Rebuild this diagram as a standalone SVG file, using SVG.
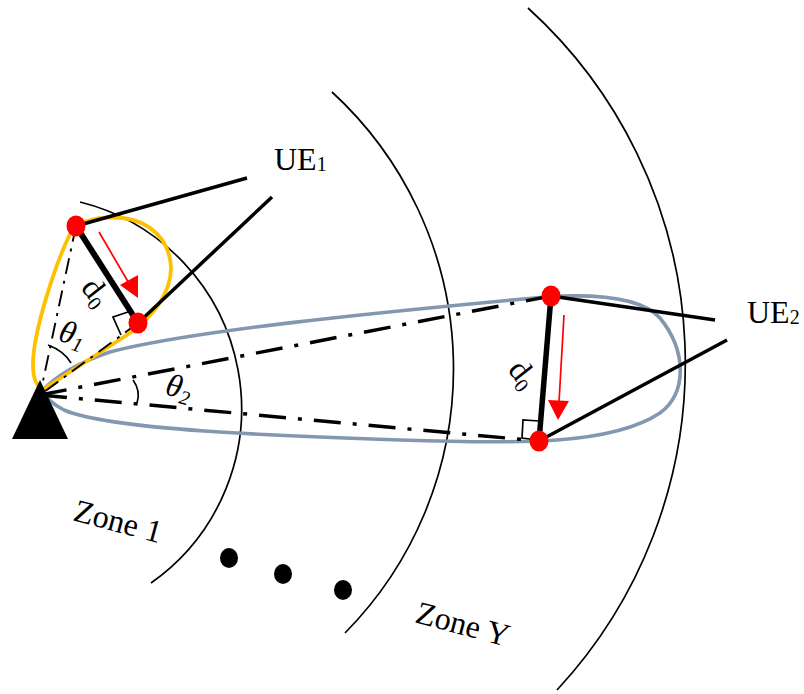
<svg xmlns="http://www.w3.org/2000/svg" width="804" height="694" viewBox="0 0 804 694">
<style>
.t{font-family:"Liberation Serif","Times New Roman",serif;fill:#000;font-size:32px}
.s{font-size:20px}
.arc{fill:none;stroke:#000;stroke-width:1.7}
.ln{fill:none;stroke:#000;stroke-width:3.5}
.dd{fill:none;stroke:#000;stroke-width:3.5;stroke-dasharray:27 12 4 12}
.dt{fill:none;stroke:#000;stroke-width:1.9;stroke-dasharray:16 7 3 7}
.thin{fill:none;stroke:#000;stroke-width:1.7}
.pt{fill:#f00}
.ra{fill:none;stroke:#f00;stroke-width:1.7}
</style>
<rect width="804" height="694" fill="#fff"/>
<g id="zones">
<path class="arc" d="M80 202A213 213 0 0 1 151 583"/>
<path class="arc" d="M332 92A376 376 0 0 1 345 633"/>
<path class="arc" d="M528 8A480 480 0 0 1 557 690"/>
</g>
<g id="beams">
<path fill="none" stroke="#8497b0" stroke-width="3.6" d="M42 391C58 374 80 362 110 352C190 331 370 313 545 297C590 294 640 296 660 318C686 350 688 392 660 413C612 445 520 444 400 440C280 436 110 430 64 410C52 404 47 398 42 391Z"/>
<path fill="none" stroke="#ffc000" stroke-width="3.8" d="M42 390L133 331C150 318 171 295 171 268C170 240 150 221 123 218C100 216 80 220 70 234C55 265 32 335 33 367C33 378 36 385 42 390Z"/>
</g>
<g id="connectors">
<path class="dt" d="M76 226L40 395"/>
<path class="dt" d="M138 323L40 395"/>
<path class="dd" d="M40 395L551 296"/>
<path class="dd" d="M40 395L539 441"/>
<path class="ln" d="M76 226L247 178"/>
<path class="ln" d="M138 323L272 197"/>
<path class="ln" d="M551 296L715 320"/>
<path class="ln" d="M539 441L727 340"/>
<path fill="none" stroke="#000" stroke-width="6" d="M76 226L138 323"/>
<path fill="none" stroke="#000" stroke-width="5.5" d="M551 296L539 441"/>
<path class="thin" d="M128 312L113 317L121 335"/>
<path class="thin" d="M539 421L523 420L522 438L538 440"/>
<path class="thin" d="M48 345Q64 351 71 363"/>
<path class="thin" d="M133 380Q141 391 137 403"/>
<path class="ra" d="M99 232L130 285"/>
<path class="pt" d="M138 298L120 285L138 275Z"/>
<path class="ra" d="M564 315L559 402"/>
<path class="pt" d="M558 420L548 400L569 401Z"/>
</g>
<g id="bs"><path d="M40 380L12 439H68Z"/></g>
<g id="ue1-pts"><ellipse class="pt" cx="76" cy="226" rx="9.5" ry="10.5"/><ellipse class="pt" cx="138" cy="323" rx="9.5" ry="10.5"/></g>
<g id="ue2-pts"><ellipse class="pt" cx="551" cy="296" rx="9.5" ry="10.5"/><ellipse class="pt" cx="539" cy="441" rx="9.5" ry="10.5"/></g>
<g id="dots"><ellipse cx="229" cy="558" rx="9" ry="10"/><ellipse cx="283" cy="574" rx="9" ry="10"/><ellipse cx="343" cy="590" rx="9" ry="10"/></g>
<g id="labels">
<text class="t" x="274" y="170">UE<tspan class="s" dy="1">1</tspan></text>
<text class="t" x="747" y="323">UE<tspan class="s" dy="1">2</tspan></text>
<text class="t" transform="translate(80 288) rotate(52)">d<tspan class="s" dy="5">0</tspan></text>
<text class="t" transform="translate(507 370) rotate(52)">d<tspan class="s" dy="5">0</tspan></text>
<text class="t" font-style="italic" transform="translate(57 340) rotate(18)">θ<tspan class="s" dy="5">1</tspan></text>
<text class="t" font-style="italic" transform="translate(164 394) rotate(15)">θ<tspan class="s" dy="5">2</tspan></text>
<text class="t" transform="translate(72 520) rotate(15)">Zone 1</text>
<text class="t" transform="translate(414 622) rotate(15)">Zone Y</text>
</g>
</svg>
